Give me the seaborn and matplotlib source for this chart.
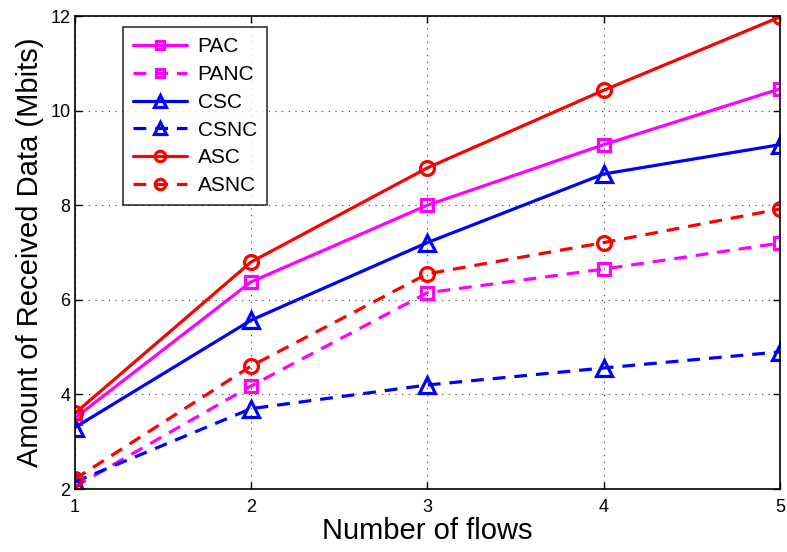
import matplotlib
matplotlib.use("Agg")
import matplotlib.pyplot as plt
import seaborn as sns
import pandas as pd

flows = [1, 2, 3, 4, 5]
pac = [3.5, 6.38, 8.0, 9.28, 10.46]
panc = [2.05, 4.18, 6.15, 6.65, 7.2]
csc = [3.3, 5.57, 7.21, 8.66, 9.28]
csnc = [2.15, 3.7, 4.2, 4.56, 4.9]
asc = [3.6, 6.8, 8.79, 10.43, 11.98]
asnc = [2.21, 4.6, 6.55, 7.21, 7.92]

series = ["PAC", "PANC", "CSC", "CSNC", "ASC", "ASNC"]
values = [pac, panc, csc, csnc, asc, asnc]
colors = ["#ff00ff", "#ff00ff", "#0000ff", "#0000ff", "#ff0000", "#ff0000"]
markers = ["s", "s", "^", "^", "o", "o"]
dashed = [False, True, False, True, False, True]

sns.set_style("white", {"text.color": "black", "axes.labelcolor": "black",
                        "xtick.color": "black", "ytick.color": "black",
                        "axes.edgecolor": "black"})
plt.rcParams["font.family"] = ["Liberation Sans", "DejaVu Sans"]

df = pd.DataFrame({
    "flows": flows * len(series),
    "value": [v for vals in values for v in vals],
    "series": [s for s in series for _ in flows],
})

fig = plt.figure(figsize=(7.87, 5.52), dpi=100)
ax = fig.add_axes([0.095, 0.114, 0.896, 0.857])

for name, col, mk, dsh in zip(series, colors, markers, dashed):
    sub = df[df["series"] == name]
    sns.lineplot(
        data=sub, x="flows", y="value", ax=ax, color=col, marker=mk,
        markersize={"s": 8.5, "^": 11, "o": 10}[mk], markerfacecolor="none",
        markeredgecolor=col, markeredgewidth=2.3, linewidth=2.3,
        linestyle=(0, (4, 2.8)) if dsh else "-", label=name,
    )

ax.set_xlim(1, 5)
ax.set_ylim(2, 12)
ax.set_xticks(flows)
ax.set_yticks([2, 4, 6, 8, 10, 12])
ax.grid(True, linestyle=(0, (1, 5)), color="#333333", linewidth=0.8)
ax.tick_params(direction="in", length=5, width=1, labelsize=13,
               colors="black", top=True, right=True, bottom=True, left=True)
ax.tick_params(axis="x", pad=7)
ax.tick_params(axis="y", pad=3)
for sp in ax.spines.values():
    sp.set_color("black")
    sp.set_linewidth(1.2)

ax.set_xlabel("Number of flows", fontsize=21, labelpad=1, color="black")
ax.set_ylabel("Amount of Received Data (Mbits)", fontsize=21, labelpad=5,
              color="black")

leg = ax.legend(loc="upper left", bbox_to_anchor=(0.068, 0.977), borderaxespad=0,
                fontsize=15, frameon=True, fancybox=False, handlelength=2.6,
                labelspacing=0.42, borderpad=0.5, handletextpad=0.5,
                markerscale=0.75, labelcolor="black")
leg.get_frame().set_edgecolor("black")
leg.get_frame().set_linewidth(1.2)

fig.savefig("out.png", dpi=100)
